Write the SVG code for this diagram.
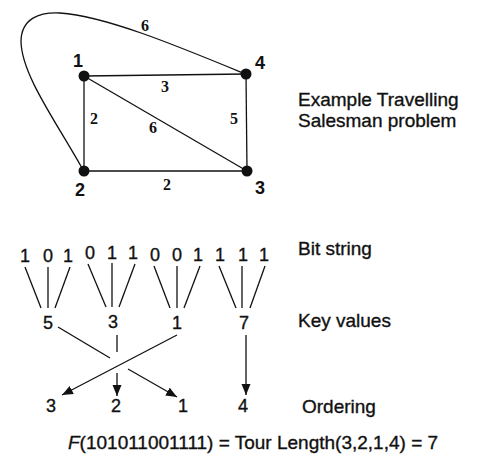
<svg xmlns="http://www.w3.org/2000/svg" width="479" height="463" viewBox="0 0 479 463">
<defs>
<style>
.ln{stroke:#111;stroke-width:1.3;fill:none}
.nd{fill:#111}
.t{font-family:"Liberation Sans",Arial,sans-serif;font-size:18px;fill:#111;stroke:#111;stroke-width:0.35}
.lb{font-size:19px}
.nl{font-family:"Liberation Sans",Arial,sans-serif;font-size:18px;font-weight:bold;fill:#111;text-anchor:middle}
.el{font-family:"Liberation Serif","Times New Roman",serif;font-size:16px;font-weight:bold;fill:#111;text-anchor:middle}
.c{text-anchor:middle}
</style>
<marker id="ah" markerUnits="userSpaceOnUse" markerWidth="12" markerHeight="10" refX="11" refY="4.5" orient="auto">
<path d="M0,0 L11,4.5 L0,9 z" fill="#111"/>
</marker>
</defs>
<g id="connectors">
<path class="ln" d="M82,168 C55,120 22,75 21,42 C21,18 40,12 60,13 C105,16 175,45 243,73"/>
<line class="ln" x1="84" y1="76" x2="246" y2="74"/>
<line class="ln" x1="84" y1="76" x2="84" y2="171"/>
<line class="ln" x1="84" y1="76" x2="247" y2="171"/>
<line class="ln" x1="246" y1="74" x2="247" y2="171"/>
<line class="ln" x1="84" y1="171" x2="247" y2="171"/>
<line class="ln" x1="25" y1="267" x2="41" y2="308"/>
<line class="ln" x1="48" y1="267" x2="48" y2="308"/>
<line class="ln" x1="70" y1="267" x2="55" y2="308"/>
<line class="ln" x1="88" y1="264" x2="106" y2="307"/>
<line class="ln" x1="112" y1="263" x2="112" y2="307"/>
<line class="ln" x1="135" y1="264" x2="119" y2="307"/>
<line class="ln" x1="154" y1="266" x2="170" y2="308"/>
<line class="ln" x1="177" y1="266" x2="177" y2="308"/>
<line class="ln" x1="200" y1="266" x2="184" y2="308"/>
<line class="ln" x1="219" y1="266" x2="236" y2="308"/>
<line class="ln" x1="242" y1="266" x2="242" y2="308"/>
<line class="ln" x1="265" y1="266" x2="250" y2="308"/>
<line class="ln" x1="58" y1="327" x2="110" y2="358"/>
<line class="ln" x1="128" y1="369" x2="177" y2="397" marker-end="url(#ah)"/>
<line class="ln" x1="177" y1="335" x2="62" y2="395" marker-end="url(#ah)"/>
<line class="ln" x1="117" y1="335" x2="117" y2="352"/>
<line class="ln" x1="117" y1="373" x2="117" y2="396" marker-end="url(#ah)"/>
<line class="ln" x1="246" y1="335" x2="246" y2="395" marker-end="url(#ah)"/>
</g>
<g id="node1"><circle class="nd" cx="84" cy="76" r="5.5"/><text class="nl" x="78" y="67">1</text></g>
<g id="node4"><circle class="nd" cx="246" cy="74" r="5.5"/><text class="nl" x="260" y="69">4</text></g>
<g id="node2"><circle class="nd" cx="84" cy="171" r="5.5"/><text class="nl" x="80" y="196">2</text></g>
<g id="node3"><circle class="nd" cx="247" cy="171" r="5.5"/><text class="nl" x="260" y="194">3</text></g>
<g id="edge-labels">
<text class="el" x="145" y="31">6</text>
<text class="el" x="165" y="92">3</text>
<text class="el" x="94" y="124">2</text>
<text class="el" x="153" y="133">6</text>
<text class="el" x="234" y="124">5</text>
<text class="el" x="167" y="190">2</text>
</g>
<g id="bits" class="t c">
<text x="25" y="262">1</text><text x="48" y="262">0</text><text x="68" y="262">1</text>
<text x="90" y="259">0</text><text x="112" y="259">1</text><text x="133" y="259">1</text>
<text x="155" y="261">0</text><text x="177" y="261">0</text><text x="198" y="261">1</text>
<text x="220" y="261">1</text><text x="243" y="261">1</text><text x="264" y="261">1</text>
</g>
<g id="keys" class="t c">
<text x="48" y="329">5</text><text x="113" y="328">3</text><text x="177" y="329">1</text><text x="244" y="329">7</text>
</g>
<g id="ordering" class="t c">
<text x="51" y="412">3</text><text x="116" y="412">2</text><text x="183" y="412">1</text><text x="243" y="412">4</text>
</g>
<g id="labels" class="t lb">
<text x="298" y="106">Example Travelling</text>
<text x="298" y="127">Salesman problem</text>
<text x="298" y="255">Bit string</text>
<text x="298" y="327">Key values</text>
<text x="302" y="413">Ordering</text>
<text x="68" y="449"><tspan font-style="italic">F</tspan>(101011001111) = Tour Length(3,2,1,4) = 7</text>
</g>
</svg>
